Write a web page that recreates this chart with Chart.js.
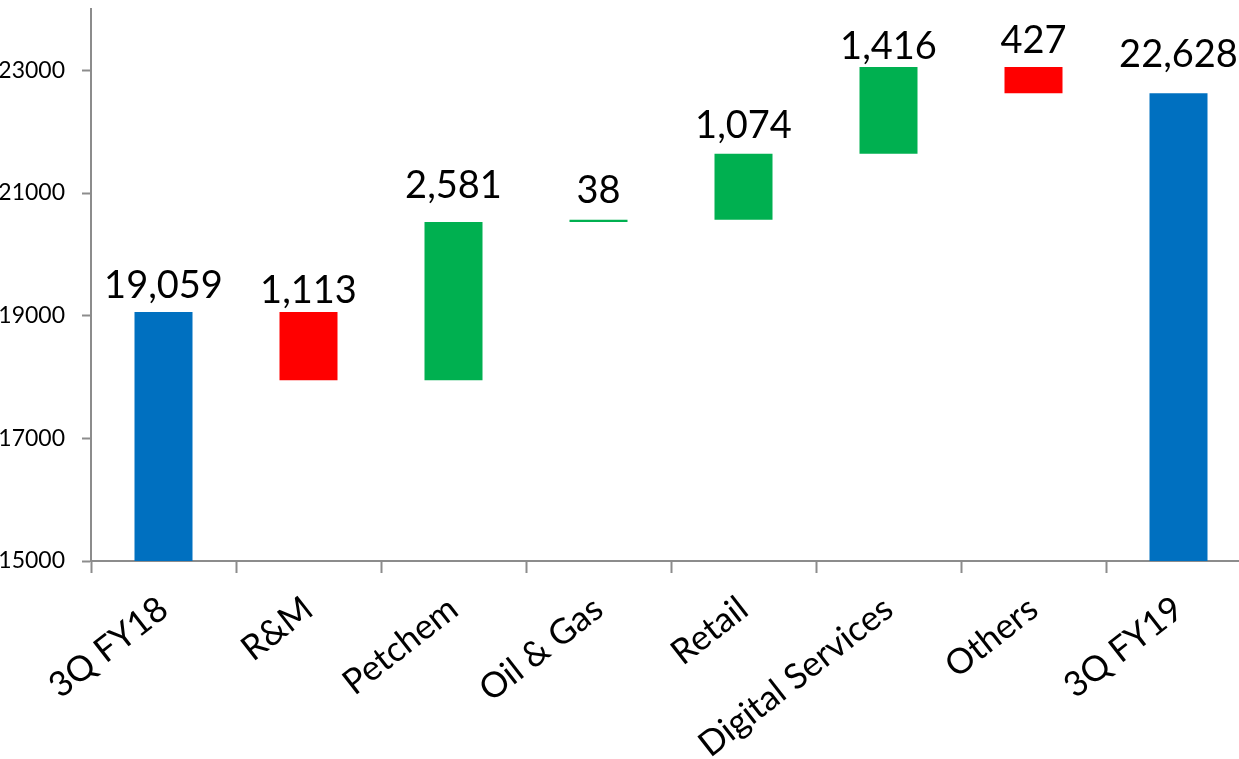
<!DOCTYPE html>
<html>
<head>
<meta charset="utf-8">
<script src="https://cdn.jsdelivr.net/npm/chart.js@4"></script>
<style>
  html, body { margin: 0; padding: 0; background: #fff; overflow: hidden; }
  #chart { display: block; }
</style>
</head>
<body>
<canvas id="chart" width="1251" height="759"></canvas>
<script>
// Waterfall data
const categories = ['3Q FY18', 'R&M', 'Petchem', 'Oil & Gas', 'Retail', 'Digital Services', 'Others', '3Q FY19'];
const startValue = 19059;
const deltas = [-1113, 2581, 38, 1074, 1416, -427];
const endValue = 22628;
const yTicks = [15000, 17000, 19000, 21000, 23000];

const BLUE = '#0070C0';
const RED = '#FF0000';
const GREEN = '#00B050';
const AXIS = '#8c8c8c';

// Build floating bars from the running total
const ranges = [];
const colors = [];
const labels = [];
let running = startValue;
ranges.push([0, startValue]);
colors.push(BLUE);
labels.push(startValue);
deltas.forEach(d => {
  const next = running + d;
  ranges.push([Math.min(running, next), Math.max(running, next)]);
  colors.push(d < 0 ? RED : GREEN);
  labels.push(Math.abs(d));
  running = next;
});
ranges.push([0, endValue]);
colors.push(BLUE);
labels.push(endValue);

// Value labels above each bar (gap in px between baseline and bar top)
const barLabels = {
  id: 'barLabels',
  afterDatasetsDraw(chart, args, opts) {
    const ctx = chart.ctx;
    const meta = chart.getDatasetMeta(0);
    ctx.save();
    ctx.font = '38px Lato';
    ctx.fillStyle = '#000';
    ctx.textAlign = 'center';
    ctx.textBaseline = 'alphabetic';
    meta.data.forEach((bar, i) => {
      const top = Math.min(bar.y, bar.base);
      const gap = opts.gaps[i] ?? 13;
      ctx.fillText(labels[i].toLocaleString('en-US'), bar.x, top - gap);
    });
    ctx.restore();
  }
};

new Chart(document.getElementById('chart'), {
  type: 'bar',
  data: {
    labels: categories,
    datasets: [{
      data: ranges,
      backgroundColor: colors,
      borderWidth: 0,
      barPercentage: 0.4,
      categoryPercentage: 1
    }]
  },
  options: {
    responsive: false,
    animation: false,
    layout: { padding: { top: 9, right: 0, left: 0, bottom: 0 } },
    plugins: {
      legend: { display: false },
      tooltip: { enabled: false },
      barLabels: { gaps: [14, 9, 24, 17, 16, 8, 14, 26] }
    },
    scales: {
      x: {
        grid: {
          display: true,
          drawOnChartArea: false,
          offset: true,
          tickLength: 12,
          tickWidth: 2,
          color: AXIS
        },
        border: { display: true, color: AXIS, width: 2 },
        ticks: {
          autoSkip: false,
          minRotation: 38,
          maxRotation: 38,
          padding: 15,
          color: '#000',
          font: { family: 'Lato', size: 35 }
        },
        afterFit(scale) { scale.height = 198; }
      },
      y: {
        min: 15000,
        max: 24000,
        afterBuildTicks(scale) {
          scale.ticks = yTicks.map(v => ({ value: v }));
        },
        grid: {
          display: true,
          drawOnChartArea: false,
          tickLength: 9,
          tickWidth: 2,
          color: AXIS
        },
        border: { display: true, color: AXIS, width: 2 },
        ticks: {
          padding: 17,
          color: '#000',
          font: { family: 'Lato', size: 23 },
          callback: v => String(v)
        },
        afterFit(scale) {
          scale.width = 91;
          scale.paddingTop = 0;
          scale.paddingBottom = 0;
        }
      }
    }
  },
  plugins: [barLabels]
});
</script>
</body>
</html>
